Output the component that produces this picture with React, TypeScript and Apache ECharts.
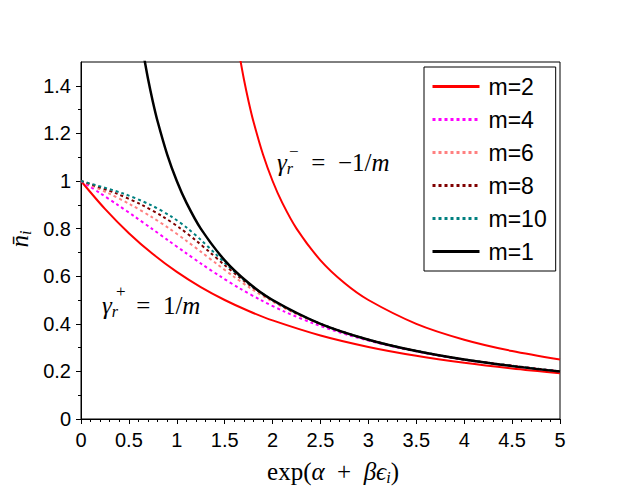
import { useEffect, useRef } from "react";
import * as echarts from "echarts";

// ---- data ----
const legendNames = ["m=2", "m=4", "m=6", "m=8", "m=10", "m=1"];

// gamma^+ = 1/m, m=2 (lower red curve)
const m2LowerX = [0, 0.25, 0.5, 0.75, 1, 1.25, 1.5, 1.75, 2, 2.5, 3, 3.5, 4, 4.5, 5];
const m2LowerY = [1, 0.8828, 0.7808, 0.693, 0.618, 0.5542, 0.5, 0.4538, 0.4142, 0.3508, 0.3028, 0.2656, 0.2361, 0.2122, 0.1926];

// gamma^- = -1/m, m=2 (upper red curve)
const m2UpperX = [1.65, 1.7, 1.75, 1.8, 1.9, 2, 2.1, 2.25, 2.5, 2.75, 3, 3.5, 4, 4.5, 5];
const m2UpperY = [1.5385, 1.4286, 1.3333, 1.25, 1.1111, 1, 0.9091, 0.8, 0.6667, 0.5714, 0.5, 0.4, 0.3333, 0.2857, 0.25];

// m=1 (black)
const m1X = [0.65, 0.7, 0.75, 0.8, 0.9, 1, 1.1, 1.25, 1.5, 1.75, 2, 2.5, 3, 3.5, 4, 4.5, 5];
const m1Y = [1.5385, 1.4286, 1.3333, 1.25, 1.1111, 1, 0.9091, 0.8, 0.6667, 0.5714, 0.5, 0.4, 0.3333, 0.2857, 0.25, 0.2222, 0.2];

// dotted curves share the same occupation levels
const dottedY = [1, 0.95, 0.9, 0.85, 0.8, 0.75, 0.7, 0.65, 0.6, 0.55, 0.5, 0.45, 0.4, 0.35, 0.3, 0.25, 0.2];
const m4X = [0, 0.1953, 0.3821, 0.5623, 0.738, 0.9115, 1.0856, 1.2638, 1.4507, 1.6518, 1.875, 2.1311, 2.436, 2.814, 3.306, 3.984, 4.992];
const m6X = [0, 0.2788, 0.5207, 0.7328, 0.9224, 1.096, 1.2605, 1.4225, 1.5888, 1.7678, 1.9688, 2.2038, 2.4898, 2.852, 3.331, 3.999, 5.0];
const m8X = [0, 0.3543, 0.6328, 0.8559, 1.0403, 1.1999, 1.3463, 1.4894, 1.6387, 1.8029, 1.9922, 2.2184, 2.4984, 2.857, 3.333, 4.0, 5.0];
const m10X = [0, 0.4224, 0.7237, 0.9448, 1.1158, 1.2583, 1.3883, 1.5177, 1.6567, 1.8136, 1.998, 2.2215, 2.4998, 2.857, 3.333, 4.0, 5.0];

const yMajorTicks = [0, 0.2, 0.4, 0.6, 0.8, 1, 1.2, 1.4];
const yMinorTicks = [0.1, 0.3, 0.5, 0.7, 0.9, 1.1, 1.3];

const SANS = "'Liberation Sans', Arial, sans-serif";
const SERIF = "'Liberation Serif', 'DejaVu Serif', serif";

const zip = (xs: number[], ys: number[]) => xs.map((x, i) => [x, ys[i]]);

function lineSeries(name: string, data: number[][], color: string, width: number, dotted: boolean) {
  return {
    name,
    type: "line",
    data,
    symbol: "none",
    smooth: 0.3,
    clip: true,
    lineStyle: { color, width, type: dotted ? [3, 3] : "solid", cap: "butt" },
    itemStyle: { color },
    emphasis: { disabled: true },
  };
}

const mathRich = (size: number) => ({
  r: { fontFamily: SERIF, fontSize: size, lineHeight: size + 4, verticalAlign: "middle", color: "#000" },
  i: { fontFamily: SERIF, fontSize: size, fontStyle: "italic", lineHeight: size + 4, verticalAlign: "middle", color: "#000" },
  s: { fontFamily: SERIF, fontSize: Math.round(size * 0.65), fontStyle: "italic", lineHeight: Math.round(size * 0.8), verticalAlign: "bottom", color: "#000" },
});

export default function App() {
  const ref = useRef<HTMLDivElement>(null);
  useEffect(() => {
    const chart = echarts.init(ref.current!, null, { renderer: "svg" });
    const option: any = {
      animation: false,
      backgroundColor: "#fff",
      grid: { left: 81, right: 81, top: 62, bottom: 81, show: true, borderColor: "#000", borderWidth: 1, backgroundColor: "transparent" },
      legend: {
        data: legendNames,
        orient: "vertical",
        left: 424,
        top: 67,
        itemWidth: 47,
        itemHeight: 14,
        itemGap: 10,
        padding: [8, 9, 8, 7],
        backgroundColor: "#fff",
        borderColor: "#000",
        borderWidth: 1,
        borderRadius: 0,
        selectedMode: false,
        lineStyle: { width: 3 },
        itemStyle: { opacity: 0 },
        textStyle: { fontFamily: SANS, fontSize: 23, color: "#000", padding: [0, 0, 0, 4] },
      },
      xAxis: {
        type: "value",
        min: 0,
        max: 5,
        interval: 0.5,
        splitLine: { show: false },
        axisLine: { onZero: false, lineStyle: { color: "#000", width: 1 } },
        axisTick: { show: true, length: 5, lineStyle: { color: "#000" } },
        minorTick: { show: true, splitNumber: 5, length: 3, lineStyle: { color: "#000" } },
        minorSplitLine: { show: false },
        axisLabel: { color: "#000", fontFamily: SANS, fontSize: 20, margin: 11 },
      },
      yAxis: [
        {
          type: "value",
          min: 0,
          max: 1.5,
          interval: 0.1,
          splitLine: { show: false },
          axisLine: { show: true, onZero: false, lineStyle: { color: "#000", width: 1 } },
          axisTick: { show: true, length: 5, customValues: yMajorTicks, lineStyle: { color: "#000" } },
          axisLabel: { color: "#000", fontFamily: SANS, fontSize: 20, margin: 10, customValues: yMajorTicks },
        },
        {
          type: "value",
          position: "left",
          min: 0,
          max: 1.5,
          interval: 0.1,
          splitLine: { show: false },
          axisLine: { show: false },
          axisTick: { show: true, length: 3, customValues: yMinorTicks, lineStyle: { color: "#000" } },
          axisLabel: { show: false },
        },
      ],
      series: [
        lineSeries("m=2", zip(m2LowerX, m2LowerY), "#ff0000", 2, false),
        lineSeries("m=2", zip(m2UpperX, m2UpperY), "#ff0000", 2, false),
        lineSeries("m=4", zip(m4X, dottedY), "#ff00ff", 2, true),
        lineSeries("m=6", zip(m6X, dottedY), "#ff8080", 2, true),
        lineSeries("m=8", zip(m8X, dottedY), "#800000", 2, true),
        lineSeries("m=10", zip(m10X, dottedY), "#008080", 2, true),
        lineSeries("m=1", zip(m1X, m1Y), "#000000", 2.5, false),
      ],
      graphic: [
        {
          type: "text",
          x: 333,
          y: 471,
          style: {
            text: "{r|exp(}{i|α}{r|  +  }{i|βϵ}{s|i}{r|)}",
            rich: mathRich(25),
            textAlign: "center",
            textVerticalAlign: "middle",
          },
        },
        {
          type: "text",
          x: 19,
          y: 239,
          rotation: Math.PI / 2,
          style: {
            text: "{i|n̄}{s|i}",
            rich: mathRich(25),
            textAlign: "center",
            textVerticalAlign: "middle",
          },
        },
        {
          type: "text",
          x: 277,
          y: 162,
          style: {
            text: "{i|γ}{s|r   }{r| =  −1/}{i|m}",
            rich: mathRich(25),
            textAlign: "left",
            textVerticalAlign: "middle",
          },
        },
        {
          type: "text",
          x: 289,
          y: 151,
          style: { text: "−", fontFamily: SERIF, fontSize: 17, fill: "#000", textAlign: "left", textVerticalAlign: "middle" },
        },
        {
          type: "text",
          x: 102,
          y: 305,
          style: {
            text: "{i|γ}{s|r   }{r| =  1/}{i|m}",
            rich: mathRich(25),
            textAlign: "left",
            textVerticalAlign: "middle",
          },
        },
        {
          type: "text",
          x: 116,
          y: 291,
          style: { text: "+", fontFamily: SERIF, fontSize: 17, fill: "#000", textAlign: "left", textVerticalAlign: "middle" },
        },
      ],
    };
    chart.setOption(option);
    return () => chart.dispose();
  }, []);
  return (
    <div
      ref={ref}
      style={{ position: "absolute", left: 0, top: 0, width: 641, height: 500, background: "#fff" }}
    />
  );
}
